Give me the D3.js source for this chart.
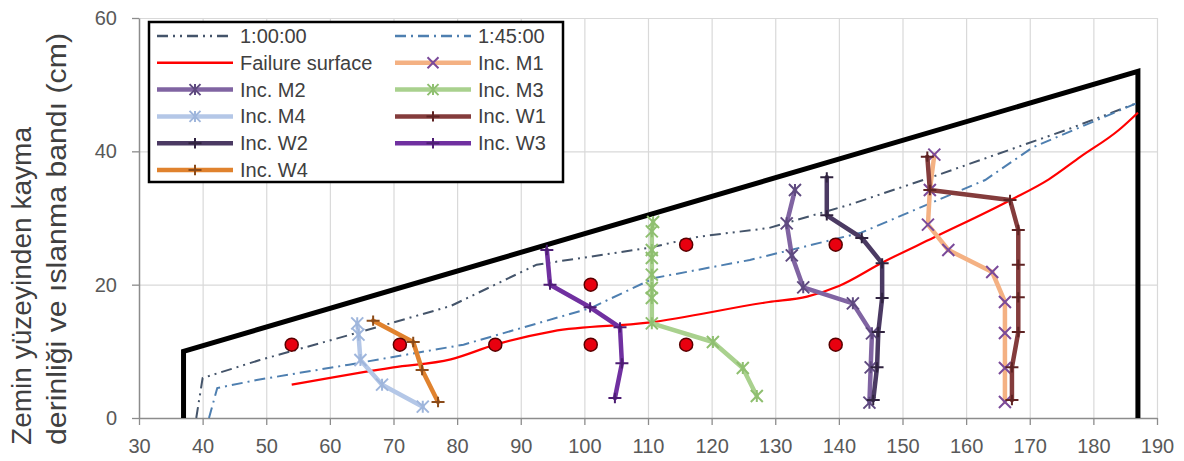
<!DOCTYPE html>
<html>
<head>
<meta charset="utf-8">
<script src="https://cdn.jsdelivr.net/npm/d3@7/dist/d3.min.js"></script>
<style>
  body { margin: 0; background: #fff; }
  svg { display: block; }
  text { font-family: "Liberation Sans", Arial, sans-serif; }
</style>
</head>
<body>
<svg id="chart" width="1184" height="461"></svg>
<script>
// Axis ticks
const xTickValues = [30, 40, 50, 60, 70, 80, 90, 100, 110, 120, 130, 140, 150, 160, 170, 180, 190];
const yTickValues = [0, 20, 40, 60];

// Model outline (x, elevation in cm)
const soilProfile = [[37, 0], [37, 10], [187, 52], [187, 0]];

// Wetting-band fronts
const wetFront100 = [[39, 0], [40, 6], [49, 8.7], [64, 12.7], [79, 16.8], [92.5, 23], [110, 25.5], [118, 27.2], [129, 28.5], [141.7, 32], [154.8, 36.2], [176, 43.3], [187, 47.3]];
const wetFront145 = [[41, 0], [42.3, 4.5], [48.5, 5.7], [63, 8], [81, 11], [101, 16.5], [111, 21], [126, 23.7], [143.5, 27.8], [163, 35.7], [170.5, 40.6], [187, 47.3]];

// Failure surface
const failureSurface = [[54, 5], [70, 7.6], [79, 8.8], [86, 11], [95, 13], [110, 14.3], [129, 17.4], [135, 18.2], [140, 19.8], [147, 23.4], [155, 27.1], [167, 32.7], [173, 35.8], [178, 39.2], [184, 43.2], [187, 45.8]];

// Moisture sensor positions
const sensorX = [54, 71, 86, 101, 101, 116, 116, 139.5, 139.5];
const sensorY = [11, 11, 11, 11, 20, 11, 26, 11, 26];

// Inclinometer profiles (displacement position, elevation)
const incM1 = [[155, 39.5], [154.3, 34.2], [154, 29], [157.2, 25.2], [164.1, 21.9], [166.1, 17.4], [166.1, 12.75], [166.1, 7.5], [166.1, 2.4]];
const incM2 = [[133.1, 34.2], [131.8, 29.2], [132.6, 24.4], [134.4, 19.6], [142.2, 17.2], [145.2, 12.7], [145, 7.6], [144.8, 2.3]];
const incM3 = [[110.8, 29.4], [110.6, 28], [110.6, 25.2], [110.6, 24], [110.6, 21.5], [110.6, 19.5], [110.6, 18], [110.6, 14.2], [120.2, 11.4], [124.9, 7.5], [127.1, 3.3]];
const incM4 = [[64.3, 14.2], [64.5, 12.5], [64.8, 8.7], [68.2, 5], [74.6, 1.7]];
const incW1 = [[153.9, 39.2], [154.3, 34.2], [166.9, 32.7], [168.2, 28.2], [168.2, 23], [168.2, 18.1], [168.2, 12.9], [167.2, 7.6], [167.2, 2.7]];
const incW2 = [[138.1, 36.1], [138.1, 30.4], [143.6, 27], [146.8, 23.2], [146.8, 18], [146.2, 12.9], [146, 7.6], [145.4, 2.7]];
const incW3 = [[94.1, 25.2], [94.6, 20], [100.9, 16.6], [105.6, 13.6], [105.9, 8.2], [104.8, 3]];
const incW4 = [[66.8, 14.6], [73.1, 11.4], [74.5, 7.2], [77, 2.4]];

const legendNames = ["1:00:00", "1:45:00", "Failure surface", "Inc. M1", "Inc. M2", "Inc. M3", "Inc. M4", "Inc. W1", "Inc. W2", "Inc. W3", "Inc. W4"];
const titleLines = ["Zemin yüzeyinden kayma", "derinliği ve ıslanma bandı (cm)"];

const svg = d3.select("#chart");
const x = d3.scaleLinear().domain([30, 190]).range([139, 1157]);
const y = d3.scaleLinear().domain([0, 60]).range([418, 18]);
const line = d3.line().x(d => x(d[0])).y(d => y(d[1]));

// Gridlines
svg.append("g").attr("transform", `translate(0,${y(0)})`)
  .call(d3.axisBottom(x).tickValues(xTickValues.slice(1)).tickSize(-(y(0) - y(60))).tickFormat(""))
  .call(g => g.select(".domain").remove())
  .call(g => g.selectAll("line").attr("stroke", "#d9d9d9").attr("stroke-width", 1.2));
svg.append("g").attr("transform", `translate(${x(30)},0)`)
  .call(d3.axisLeft(y).tickValues(yTickValues.slice(1)).tickSize(-(x(190) - x(30))).tickFormat(""))
  .call(g => g.select(".domain").remove())
  .call(g => g.selectAll("line").attr("stroke", "#d9d9d9").attr("stroke-width", 1.2));

// Axes
const xAxis = svg.append("g").attr("transform", `translate(0,${y(0)})`)
  .call(d3.axisBottom(x).tickValues(xTickValues).tickSize(7).tickSizeOuter(0).tickPadding(14));
const yAxis = svg.append("g").attr("transform", `translate(${x(30)},0)`)
  .call(d3.axisLeft(y).tickValues(yTickValues).tickSize(7).tickSizeOuter(0).tickPadding(15));
[xAxis, yAxis].forEach(g => {
  g.select(".domain").attr("stroke", "#8c8c8c").attr("stroke-width", 1.5);
  g.selectAll(".tick line").attr("stroke", "#8c8c8c").attr("stroke-width", 1.3);
  g.selectAll(".tick text").attr("fill", "#595959").attr("font-size", 20)
    .attr("font-family", "'Liberation Sans', Arial, sans-serif");
});

// Y-axis title, one text element per line
const titleLengths = [318, 412];
const titleBaselines = [31, 66];
titleLines.forEach((t, i) => {
  svg.append("text")
    .attr("transform", `translate(${titleBaselines[i]},445) rotate(-90)`)
    .attr("x", 0).attr("y", 0)
    .attr("fill", "#404040").attr("font-size", 27)
    .attr("textLength", titleLengths[i]).attr("lengthAdjust", "spacingAndGlyphs")
    .text(t);
});

// Model outline
svg.append("path").datum(soilProfile).attr("d", line)
  .attr("fill", "none").attr("stroke", "#000").attr("stroke-width", 5).attr("stroke-linejoin", "miter");

// Wetting fronts
const dash100 = "11,5,2,5,2,5";
const dash145 = "11,5,2,5";
svg.append("path").datum(wetFront100).attr("d", line)
  .attr("fill", "none").attr("stroke", "#44546a").attr("stroke-width", 2).attr("stroke-dasharray", dash100);
svg.append("path").datum(wetFront145).attr("d", line)
  .attr("fill", "none").attr("stroke", "#4e7fb0").attr("stroke-width", 2).attr("stroke-dasharray", dash145);

// Failure surface
svg.append("path").datum(failureSurface).attr("d", line.curve(d3.curveMonotoneX))
  .attr("fill", "none").attr("stroke", "#ff0000").attr("stroke-width", 2.2);
line.curve(d3.curveLinear);

// Marker shapes
function markerPath(kind, s) {
  if (kind === "x") return `M${-s},${-s}L${s},${s}M${-s},${s}L${s},${-s}`;
  if (kind === "star") return `M${-s},${-s}L${s},${s}M${-s},${s}L${s},${-s}M0,${-s}L0,${s}`;
  return `M${-s},0L${s},0M0,${-s * 0.8}L0,${s * 0.8}`;
}

const incSeries = [
  { data: incM1, color: "#f4b183", mark: "#7a4a9a", kind: "x", name: "Inc. M1" },
  { data: incM2, color: "#8064a2", mark: "#5f4a80", kind: "star", name: "Inc. M2" },
  { data: incM3, color: "#a9d18e", mark: "#8fbf70", kind: "star", name: "Inc. M3" },
  { data: incM4, color: "#b4c7e7", mark: "#9fb6dc", kind: "star", name: "Inc. M4" },
  { data: incW1, color: "#843c3c", mark: "#5e2323", kind: "plus", name: "Inc. W1" },
  { data: incW2, color: "#4b3a63", mark: "#30233f", kind: "plus", name: "Inc. W2" },
  { data: incW3, color: "#7030a0", mark: "#4d1d73", kind: "plus", name: "Inc. W3" },
  { data: incW4, color: "#e0822e", mark: "#8a4b1a", kind: "plus", name: "Inc. W4" }
];

incSeries.forEach(s => {
  const g = svg.append("g");
  g.append("path").datum(s.data).attr("d", line)
    .attr("fill", "none").attr("stroke", s.color).attr("stroke-width", 4.5)
    .attr("stroke-linejoin", "round").attr("stroke-linecap", "round");
  g.selectAll("path.m").data(s.data).join("path").attr("class", "m")
    .attr("transform", d => `translate(${x(d[0])},${y(d[1])})`)
    .attr("d", markerPath(s.kind, s.kind === "plus" ? 6.5 : 6))
    .attr("fill", "none").attr("stroke", s.mark).attr("stroke-width", 2);
});

// Moisture sensors
svg.append("g").selectAll("circle").data(sensorX).join("circle")
  .attr("cx", d => x(d)).attr("cy", (d, i) => y(sensorY[i])).attr("r", 6.5)
  .attr("fill", "#e8000f").attr("stroke", "#5a0000").attr("stroke-width", 1.5);

// Legend
const legend = svg.append("g");
legend.append("rect").attr("x", 149).attr("y", 22).attr("width", 414).attr("height", 160)
  .attr("fill", "#fff").attr("stroke", "#000").attr("stroke-width", 2.5);
const legendItems = [
  { name: legendNames[0], color: "#44546a", dash: dash100, width: 2.5 },
  { name: legendNames[1], color: "#4e7fb0", dash: dash145, width: 2.5 },
  { name: legendNames[2], color: "#ff0000", width: 2.5 },
  ...incSeries.map(s => ({ name: s.name, color: s.color, width: 4.5, kind: s.kind, mark: s.mark }))
];
legendItems.forEach((it, i) => {
  const col = i % 2, row = Math.floor(i / 2);
  const lx = col === 0 ? 157 : 395;
  const ly = 36 + row * 26.8;
  const g = legend.append("g");
  g.append("line").attr("x1", lx).attr("x2", lx + 76).attr("y1", ly).attr("y2", ly)
    .attr("stroke", it.color).attr("stroke-width", it.width)
    .attr("stroke-dasharray", it.dash || null);
  if (it.kind) {
    g.append("path").attr("transform", `translate(${lx + 38},${ly})`)
      .attr("d", markerPath(it.kind, it.kind === "plus" ? 6.5 : 5.5))
      .attr("fill", "none").attr("stroke", it.mark).attr("stroke-width", 2);
  }
  g.append("text").attr("x", lx + 83).attr("y", ly).attr("dy", "0.35em")
    .attr("font-size", 20).attr("fill", "#404040").text(it.name);
});
</script>
</body>
</html>
